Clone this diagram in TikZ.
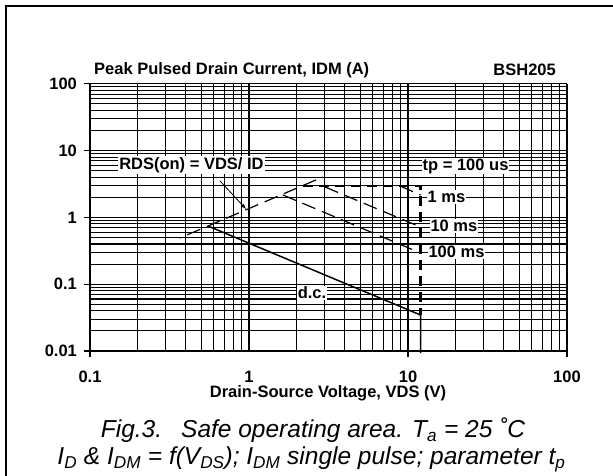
\documentclass[tikz,border=0pt]{standalone}
\usepackage{fontspec}
\setmainfont{Liberation Sans}
\usetikzlibrary{arrows}
\usetikzlibrary{positioning}

\tikzset{
  lbl/.style    = {font=\bfseries\fontsize{16.5}{18}\selectfont, inner sep=1pt},
  boxlbl/.style = {lbl, fill=white},
  gridln/.style = {line width=1.1pt},
  pulse/.style  = {line width=1.2pt, dash pattern=on 14pt off 7pt},
  limit/.style  = {line width=2.8pt, dash pattern=on 10pt off 6pt},
  capt/.style   = {font=\itshape\fontsize{24.5}{28}\selectfont, inner sep=0pt, anchor=base},
}

\begin{document}
\begin{tikzpicture}
        \useasboundingbox (0,0) rectangle (613pt,476pt);
        \draw[line width=2.5pt] (6pt,-10pt) |- (630pt,470pt);

        % titles
        \node[lbl, anchor=west] (ttl) at (93pt,406pt)  {Peak Pulsed Drain Current, IDM (A)};
        \node[lbl, anchor=east] (dev) at (557pt,406pt) {BSH205};
        \node[lbl, inner sep=0pt] (xttl) at (328pt,82.5pt) {Drain-Source Voltage, VDS (V)};
        \node[capt] (cap1) at (313pt,38pt) {Fig.3.\hspace{19pt}Safe operating area. T\textsubscript{a} = 25 ˚C};
        \node[capt] (cap2) at (311.5pt,11pt) {I\textsubscript{D} \& I\textsubscript{DM} = f(V\textsubscript{DS}); I\textsubscript{DM} single pulse; parameter t\textsubscript{p}};

        \begin{scope}[shift={(90pt,125pt)}, x=159pt, y=66.8pt]
        % grid, log-log: 0.1..100 V, 0.01..100 A
        \foreach \d in {0,1,2}
          \foreach \k in {1,...,9}
            \draw[gridln] ({\d+log10(\k)},0) -- ({\d+log10(\k)},4);
        \draw[gridln] (3,0) -- (3,4);
        \foreach \d in {0,1,2,3}
          \foreach \k in {1,...,9}
            \draw[gridln] (0,{\d+log10(\k)}) -- (3,{\d+log10(\k)});
        \draw[gridln] (0,4) -- (3,4);
        \foreach \d in {0,...,4}
          \draw[gridln] (-0.038,\d) -- (0,\d);
        \foreach \d in {0,2,3}
          \draw[gridln] (\d,-0.09) -- (\d,0);

        % tick labels
        \node[lbl, anchor=east] (y0) at (-0.075,0) {0.01};
        \node[lbl, anchor=east] (y1) at (-0.075,1) {0.1};
        \node[lbl, anchor=east] (y2) at (-0.075,2) {1};
        \node[lbl, anchor=east] (y3) at (-0.075,3) {10};
        \node[lbl, anchor=east] (y4) at (-0.075,4) {100};
        \node[lbl, inner sep=0pt] (x0) at (0,-0.39) {0.1};
        \node[lbl, inner sep=0pt] (x1) at (1,-0.39) {1};
        \node[lbl, inner sep=0pt] (x2) at (2,-0.39) {10};
        \node[lbl, inner sep=0pt] (x3) at (3,-0.39) {100};

        % curve end points
        \coordinate (r1) at (0.566,1.692);
        \coordinate (r2) at (1.465,2.605);
        \coordinate (h1) at (1.340,2.470);
        \coordinate (h2) at (2.079,2.470);
        \coordinate (h3) at (2.079,0.539);
        \coordinate (h4) at (2.079,-0.03);
        \coordinate (d1) at (0.742,1.871);
        \coordinate (m1) at (1.950,2.470);
        \coordinate (m2) at (2.079,2.335);
        \coordinate (t1) at (1.478,2.455);
        \coordinate (t2) at (2.079,1.856);
        \coordinate (s1) at (1.214,2.335);
        \coordinate (s2) at (2.079,1.467);
        \coordinate (a1) at (0.818,2.545);
        \coordinate (a2) at (0.981,2.126);

        \draw[pulse, dash phase=13pt] (r1) -- (r2);
        \draw[pulse] (m1) -- (m2);
        \draw[pulse] (t1) -- (t2);
        \draw[pulse] (s1) -- (s2);
        \draw[line width=1.5pt] (d1) -- (h3) -- (h4);
        \draw[limit] (h1) -- (h2) -- (h3);

        % labels
        \node[boxlbl] (rds)  at (0.638,2.784) {RDS(on) = VDS/ ID};
        \node[boxlbl] (tp)   at (2.362,2.769) {tp = 100 us};
        \node[boxlbl] (ms1)  at (2.242,2.305) {1 ms};
        \node[boxlbl] (ms10) at (2.289,1.871) {10 ms};
        \node[boxlbl] (ms100) at (2.305,1.482) {100 ms};
        \node[boxlbl] (dc)   at (1.396,0.868) {d.c.};
        \draw[-latex, line width=0.8pt] (a1) -- (a2);
        \end{scope}
      \end{tikzpicture}
\end{document}
